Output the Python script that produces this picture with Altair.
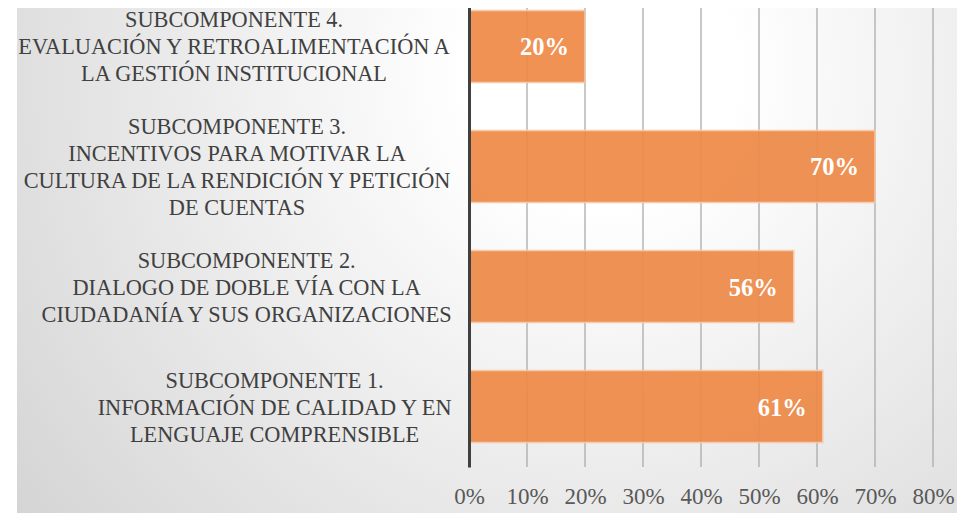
import altair as alt
import pandas as pd

# ---- data ----
keys = ["S4", "S3", "S2", "S1"]
label_lines = [
    ["SUBCOMPONENTE 4.", "EVALUACIÓN Y RETROALIMENTACIÓN A", "LA GESTIÓN INSTITUCIONAL"],
    ["SUBCOMPONENTE 3.", "INCENTIVOS PARA MOTIVAR LA", "CULTURA DE LA RENDICIÓN Y PETICIÓN", "DE CUENTAS"],
    ["SUBCOMPONENTE 2.", "DIALOGO DE DOBLE VÍA CON LA", "CIUDADANÍA Y SUS ORGANIZACIONES"],
    ["SUBCOMPONENTE 1.", "INFORMACIÓN DE CALIDAD Y EN", "LENGUAJE COMPRENSIBLE"],
]
values = [0.20, 0.70, 0.56, 0.61]
tick_values = [0, 0.1, 0.2, 0.3, 0.4, 0.5, 0.6, 0.7, 0.8]

# ---- layout ----
FONT = "Liberation Serif"
CAT_FS = 22.3
LINE_H = 27
TOTAL_W, TOTAL_H = 949, 505
PAD_L = 461
PLOT_W = 464
PLOT_H = 459
X_MAX = 0.8
LABEL_RIGHT = -22  # right edge of category label block, relative to plot left (px)

# Times-compatible advance widths (per 1000 em) for estimating line widths
_w = dict(zip("ABCDEFGHIJKLMNOPQRSTUVWXYZ",
              [722, 667, 667, 722, 611, 556, 722, 722, 333, 389, 722, 611, 889,
               722, 722, 556, 722, 667, 556, 611, 722, 722, 944, 722, 722, 611]))
_w.update({"Ó": 722, "Í": 333, "Á": 722, "É": 611, " ": 250, ".": 250})
for d in "0123456789":
    _w[d] = 500


def text_width(s, fs):
    return 0.97 * sum(_w.get(c, 600) for c in s) / 1000.0 * fs


def px_to_x(px):
    return px / PLOT_W * X_MAX


label_df = pd.DataFrame({
    "key": keys,
    "text": ["\n".join(l) for l in label_lines],
    "n": [len(l) for l in label_lines],
    "cx": [px_to_x(LABEL_RIGHT - max(text_width(s, CAT_FS) for s in l) / 2) for l in label_lines],
})
bar_df = pd.DataFrame({"key": keys, "value": values})
grid_df = pd.DataFrame({"t": tick_values})

y_scale = alt.Scale(domain=keys, range=[-22, PLOT_H], paddingInner=0.4, paddingOuter=0.204)
x_scale = alt.Scale(domain=[0, X_MAX], nice=False, clamp=False)

x_axis = alt.Axis(values=tick_values, format="%", grid=False, ticks=False, domain=False,
                  labelFont=FONT, labelFontSize=23, labelColor="#595959",
                  labelPadding=18, labelFlush=False, title=None, zindex=1)
y_axis = alt.Axis(labels=False, ticks=False, grid=False, title=None, domain=True,
                  domainColor="#404040", domainWidth=3, zindex=1)

gradient = alt.RadialGradient(
    gradient="radial",
    stops=[
        alt.GradientStop(offset=0, color="#FFFFFF"),
        alt.GradientStop(offset=0.15, color="#FFFFFF"),
        alt.GradientStop(offset=1, color="#C9C9C9"),
    ],
    x1=0.62, y1=0.3, r1=0, x2=0.62, y2=0.3, r2=0.95,
)

background = alt.Chart(alt.Data(values=[{}])).mark_rect(fill=gradient, strokeWidth=0).encode(
    x=alt.value(9 - PAD_L), x2=alt.value(TOTAL_W - PAD_L),
    y=alt.value(0), y2=alt.value(TOTAL_H),
)

grid = alt.Chart(grid_df).mark_rule(color="#ABABAB", strokeWidth=1.3).encode(
    x=alt.X("t:Q", scale=x_scale, axis=x_axis),
    y=alt.value(0), y2=alt.value(PLOT_H),
)

bars = alt.Chart(bar_df).mark_bar(
    color="#EE8A48", opacity=0.93, stroke="#F8C8A6", strokeWidth=1.5
).encode(
    x=alt.X("value:Q", scale=x_scale, axis=x_axis),
    y=alt.Y("key:N", scale=y_scale, sort=keys, axis=y_axis),
)

value_labels = alt.Chart(bar_df).mark_text(
    align="right", baseline="middle", dx=-16, dy=2, font=FONT, fontSize=24.5,
    fontWeight="bold", color="white"
).encode(
    x=alt.X("value:Q", scale=x_scale, axis=x_axis),
    y=alt.Y("key:N", scale=y_scale, sort=keys, axis=y_axis),
    text=alt.Text("value:Q", format=".0%"),
)

cat_layers = []
for n in sorted(set(label_df["n"])):
    cat_layers.append(
        alt.Chart(label_df).transform_filter(alt.datum.n == n).mark_text(
            align="center", baseline="middle", lineBreak="\n", lineHeight=LINE_H,
            dy=-(n - 1) * LINE_H / 2 + 1,
            font=FONT, fontSize=CAT_FS, color="#404040"
        ).encode(
            x=alt.X("cx:Q", scale=x_scale, axis=x_axis),
            y=alt.Y("key:N", scale=y_scale, sort=keys, axis=y_axis),
            text="text:N",
        )
    )

chart = alt.layer(background, grid, bars, value_labels, *cat_layers).properties(
    width=PLOT_W, height=PLOT_H,
    padding={"left": PAD_L, "top": 0, "right": TOTAL_W - PAD_L - PLOT_W, "bottom": TOTAL_H - PLOT_H},
    autosize=alt.AutoSizeParams(type="none"),
).configure_view(stroke=None)

chart.save("out.html", embed_options={"renderer": "svg", "actions": False})
